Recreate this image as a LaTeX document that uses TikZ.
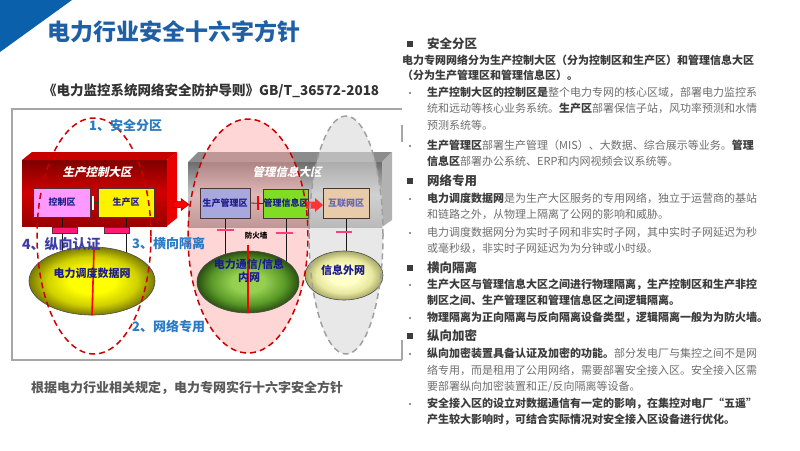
\documentclass[tikz,border=0pt]{standalone}
\usepackage{fontspec}
\setmainfont{Noto Sans CJK SC}
\newfontfamily\slantcjk[FakeSlant=0.22]{Noto Sans CJK SC}
\usetikzlibrary{shapes.geometric}
\definecolor{triblue}{HTML}{0A60AA}
\definecolor{titleblue}{HTML}{1F5FA6}
\definecolor{subgray}{HTML}{333333}
\definecolor{framegray}{HTML}{A6A6A6}
\definecolor{navy}{HTML}{1C1C8E}
\definecolor{lblue}{HTML}{2A7BC4}
\definecolor{lpurple}{HTML}{3D3DA6}
\definecolor{dk}{HTML}{3C3C3C}
\definecolor{lt}{HTML}{6E6E6E}
\definecolor{boxedge}{HTML}{4A3434}
\definecolor{zred}{HTML}{CC0000}
\definecolor{zgray}{HTML}{A0A0A0}
\definecolor{gin}{HTML}{96D050}
\definecolor{gmid}{HTML}{5A9A28}
\definecolor{gout}{HTML}{2A5010}
\definecolor{ymid}{HTML}{D0D000}
\definecolor{yout}{HTML}{7A7A00}
\definecolor{pin}{HTML}{FFFFC8}
\definecolor{pmid}{HTML}{E8E8A0}
\definecolor{pout}{HTML}{A8A868}
\definecolor{lav}{HTML}{A8A8DC}
\definecolor{grn}{HTML}{80DD22}
\definecolor{peach}{HTML}{E8CBAA}
\definecolor{kzpink}{HTML}{FF99FF}
\definecolor{tagc}{HTML}{FF1A78}
\definecolor{barc}{HTML}{FF3C80}
\pgfdeclareradialshading{yball}{\pgfpoint{0bp}{0bp}}{color(0bp)=(yellow); color(9bp)=(yellow); color(18bp)=(ymid); color(25bp)=(yout); color(50bp)=(yout)}
\pgfdeclareradialshading{gball}{\pgfpoint{0bp}{0bp}}{color(0bp)=(gin); color(8bp)=(gin); color(18bp)=(gmid); color(25bp)=(gout); color(50bp)=(gout)}
\pgfdeclareradialshading{pball}{\pgfpoint{0bp}{0bp}}{color(0bp)=(pin); color(9bp)=(pin); color(18bp)=(pmid); color(25bp)=(pout); color(50bp)=(pout)}
\newcommand\B[1]{{\bfseries\color{dk}#1}}
\pgfdeclarelayer{back}\pgfdeclarelayer{mid}\pgfdeclarelayer{front}
\pgfsetlayers{back,mid,main,front}
\begin{document}
\begin{tikzpicture}[x=1pt,y=-1pt,
  every node/.style={inner sep=0pt},
  zbox/.style={draw=boxedge, line width=0.8pt, rectangle, font=\fontsize{9}{10}\selectfont\bfseries, text=navy},
  bigl/.style={font=\slantcjk\fontsize{11.5}{13}\selectfont\bfseries, text=white},
  netl/.style={font=\fontsize{11}{13.5}\selectfont\bfseries, text=navy, align=center},
  numl/.style={anchor=west, font=\fontsize{13}{15}\selectfont\bfseries, text=lblue},
  conn/.style={line width=1pt, draw=black!90},
  tagbox/.style={rectangle, fill=tagc, draw=boxedge, line width=0.5pt, minimum width=25pt, minimum height=6pt},
  pinkbar/.style={line width=2.5pt, draw=barc},
  zdash/.style={line width=1.5pt, dash pattern=on 6pt off 4pt},
  netball/.style={ellipse, draw=black!70, line width=0.6pt},
  rline/.style={anchor=west, font=\fontsize{11}{13}\selectfont, text=lt, text height=9pt, text depth=2pt},
  bline/.style={rline, font=\fontsize{11}{13}\selectfont\bfseries, text=dk},
  head/.style={anchor=west, font=\fontsize{12.5}{14}\selectfont\bfseries, text=dk, text height=10pt, text depth=2pt}
]
\useasboundingbox (0,0) rectangle (800,450);

\begin{pgfonlayer}{back}
\fill[white] (0,0) rectangle (800,450);
% red 3D box
\fill[top color=red!50!black, bottom color=red!60!black, middle color=red!82!black] (22,160) rectangle (167,226);
\fill[red!78!black] (22,160) -- (32,152) -- (177,152) -- (167,160) -- cycle;
\fill[red!92!black] (167,160) -- (177,152) -- (177,218) -- (167,226) -- cycle;
% gray 3D box
\fill[top color=black!58, bottom color=black!45, middle color=black!22] (188,162) rectangle (382,227);
\fill[black!45] (188,162) -- (198,152) -- (392,152) -- (382,162) -- cycle;
\fill[black!30] (382,162) -- (392,152) -- (392,220) -- (382,227) -- cycle;
% zone fills
\fill[red!35, fill opacity=0.45] (248,236) ellipse [x radius=60pt, y radius=117pt];
\fill[black!15, fill opacity=0.6] (346,235) ellipse [x radius=37pt, y radius=119pt];
\end{pgfonlayer}

% title
\fill[triblue] (0,0) -- (72,0) -- (0,52) -- cycle;
\node[anchor=west, font=\fontsize{23}{26}\selectfont\bfseries, text=titleblue] (title) at (47,32) {电力行业安全十六字方针};
\node[anchor=west, font=\fontsize{13.5}{15}\selectfont\bfseries, text=subgray] (sub) at (43,91) {《电力监控系统网络安全防护导则》GB/T\_36572-2018};

% frame
\draw[framegray, line width=1.5pt] (402,109) -- (12,109) -- (12,360) -- (402,360);
\draw[framegray, line width=1.5pt] (402,125) -- (402,142);
\draw[framegray, line width=1.5pt] (402,340) -- (402,360);

% labels of big zones
\node[bigl] (pcz) at (97,172) {生产控制大区};
\node[bigl] (mgz) at (287,172) {管理信息大区};

% boxes
\node[zbox, fill=kzpink, minimum width=57pt, minimum height=29pt] (kz) at (62,202.5) {控制区};
\node[zbox, fill=yellow, minimum width=56pt, minimum height=29pt] (sc) at (126,202.5) {生产区};
\node[zbox, fill=lav, minimum width=50pt, minimum height=30pt] (scgl) at (225,203) {生产管理区};
\node[zbox, fill=grn, minimum width=39pt, minimum height=29pt] (glxx) at (286,203.5) {管理信息区};
\node[zbox, fill=peach, minimum width=46pt, minimum height=30pt, text=lpurple!80!white] (hlw) at (346,203) {互联网区};

% network ellipses
\node[netball, shading=yball, minimum width=126pt, minimum height=68pt] (dd) at (92,281) {};
\node[netball, shading=gball, minimum width=102pt, minimum height=62pt] (nw) at (248,282) {};
\node[netball, shading=pball, minimum width=78pt, minimum height=49pt] (ww) at (344,275.5) {};

\begin{pgfonlayer}{mid}
\draw[conn] (kz.south) -- (kz.south |- dd.center);
\draw[conn] (sc.south) -- (sc.south |- dd.center);
\draw[conn] (scgl.south) -- (scgl.south |- nw.center);
\draw[conn] (glxx.south) -- (glxx.south |- nw.center);
\draw[conn] (hlw.south) -- (hlw.south |- ww.center);
\end{pgfonlayer}

% links between boxes
\draw[line width=0.8pt, black!80] (kz.east) -- (sc.west);
\draw[line width=2pt, white] (93,196) -- (93,210);
\draw[line width=0.8pt, black!80] (scgl.east) -- (glxx.west);
\draw[line width=2pt, red] (258,196) -- (258,210);

% tags
\node[tagbox] (t1) at (64.5,230) {};
\node[tagbox] (t2) at (116.5,230) {};
\draw[pinkbar] (217,230) -- (234,230);
\draw[pinkbar] (276,233) -- (293,233);
\draw[pinkbar] (336,232) -- (352,232);

% arrows
\fill[red, draw=red!50!black, line width=0.5pt] (173,201.5) -- (181,201.5) -- (181,198.5) -- (189,204.5) -- (181,210.5) -- (181,207.5) -- (173,207.5) -- cycle;
\fill[red!85, fill opacity=0.9] (306,201.5) -- (315,201.5) -- (315,198) -- (323,205) -- (315,212) -- (315,208.5) -- (306,208.5) -- cycle;

% red isolation lines
\draw[red, line width=1.6pt] (94,250) -- (dd.south);
\draw[red, line width=1.6pt] (248,245) -- (nw.south);
\node[font=\fontsize{7.5}{8}\selectfont\bfseries, text=black] (fw) at (256,236) {防火墙};

% network labels
\node[netl] (ddl) at (92,273) {电力调度数据网};
\node[netl] (nwl) at (249,271) {电力通信/信息\\内网};
\node[netl] (wwl) at (343,270) {信息外网};

\begin{pgfonlayer}{front}
\draw[zred, zdash] (94,236) ellipse [x radius=57pt, y radius=118pt];
\draw[zred, zdash] (248,236) ellipse [x radius=60pt, y radius=117pt];
\draw[zgray, zdash] (346,235) ellipse [x radius=37pt, y radius=119pt];
\node[numl] (n1) at (89,126) {1、安全分区};
\node[numl, font=\fontsize{14}{16}\selectfont\bfseries, text=lpurple] (n4) at (22,244) {4、纵向认证};
\node[numl] (n3) at (132,244) {3、横向隔离};
\node[numl] (n2) at (132,327) {2、网络专用};
\end{pgfonlayer}

\node[anchor=west, font=\fontsize{13}{15}\selectfont\bfseries, text=black!65] (note) at (31,388) {根据电力行业相关规定，电力专网实行十六字安全方针};

% right text panel
\fill[dk] (407,41) rectangle (413,47);
\node[head] (h1) at (427,44) {安全分区};
\node[bline] (r1) at (402,61) {电力专网网络分为生产控制大区（分为控制区和生产区）和管理信息大区};
\node[bline] (r2) at (402,76) {（分为生产管理区和管理信息区）。};
\fill[lt] (410,93) circle (1.1pt);
\node[rline] (r3) at (427,93) {\B{生产控制大区的控制区是}整个电力专网的核心区域，部署电力监控系};
\node[rline] (r4) at (427,109) {统和远动等核心业务系统。\B{生产区}部署保信子站，风功率预测和水情};
\node[rline] (r5) at (427,126) {预测系统等。};
\fill[lt] (410,146) circle (1.1pt);
\node[rline] (r6) at (427,146) {\B{生产管理区}部署生产管理（MIS）、大数据、综合展示等业务。\B{管理}};
\node[rline] (r7) at (427,162) {\B{信息区}部署办公系统、ERP和内网视频会议系统等。};
\fill[dk] (407,178) rectangle (413,184);
\node[head] (h2) at (427,181) {网络专用};
\fill[lt] (410,199) circle (1.1pt);
\node[rline] (r8) at (427,199) {\B{电力调度数据网}是为生产大区服务的专用网络，独立于运营商的基站};
\node[rline] (r9) at (427,215) {和链路之外，从物理上隔离了公网的影响和威胁。};
\fill[lt] (410,233) circle (1.1pt);
\node[rline] (r10) at (427,233) {电力调度数据网分为实时子网和非实时子网，其中实时子网延迟为秒};
\node[rline] (r11) at (427,249) {或毫秒级，非实时子网延迟为为分钟或小时级。};
\fill[dk] (407,265) rectangle (413,271);
\node[head] (h3) at (427,268) {横向隔离};
\fill[lt] (410,285) circle (1.1pt);
\node[bline] (r12) at (427,285) {生产大区与管理信息大区之间进行物理隔离，生产控制区和生产非控};
\node[bline] (r13) at (427,301) {制区之间、生产管理区和管理信息区之间逻辑隔离。};
\fill[lt] (410,318) circle (1.1pt);
\node[bline] (r14) at (427,318) {物理隔离为正向隔离与反向隔离设备类型，逻辑隔离一般为为防火墙。};
\fill[dk] (407,333) rectangle (413,339);
\node[head] (h4) at (427,336) {纵向加密};
\fill[lt] (410,354) circle (1.1pt);
\node[rline] (r15) at (427,354) {\B{纵向加密装置具备认证及加密的功能。}部分发电厂与集控之间不是网};
\node[rline] (r16) at (427,371) {络专用，而是租用了公用网络，需要部署安全接入区。安全接入区需};
\node[rline] (r17) at (427,387) {要部署纵向加密装置和正/反向隔离等设备。};
\fill[lt] (410,404) circle (1.1pt);
\node[bline] (r18) at (427,404) {安全接入区的设立对数据通信有一定的影响，在集控对电厂“五遥”};
\node[bline] (r19) at (427,420) {产生较大影响时，可结合实际情况对安全接入区设备进行优化。};
\end{tikzpicture}
\end{document}
